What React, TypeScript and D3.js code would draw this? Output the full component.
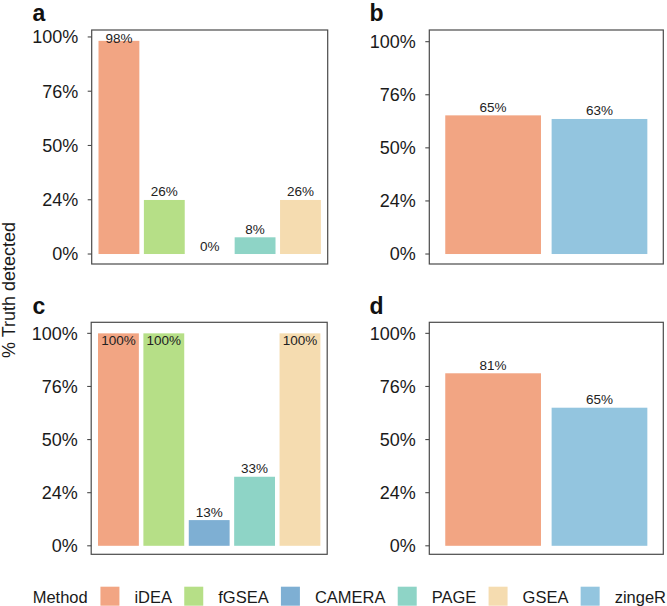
import React from "react";
import * as d3 from "d3";

// ---------- data ----------
const methodsA = ["iDEA", "fGSEA", "CAMERA", "PAGE", "GSEA"];
const valuesA = [0.982, 0.249, 0, 0.077, 0.249];
const labelsA = ["98%", "26%", "0%", "8%", "26%"];

const methodsB = ["iDEA", "zingeR"];
const valuesB = [0.653, 0.636];
const labelsB = ["65%", "63%"];

const methodsC = ["iDEA", "fGSEA", "CAMERA", "PAGE", "GSEA"];
const valuesC = [1, 1, 0.121, 0.325, 1];
const labelsC = ["100%", "100%", "13%", "33%", "100%"];

const methodsD = ["iDEA", "zingeR"];
const valuesD = [0.812, 0.65];
const labelsD = ["81%", "65%"];

const tickValues = [0, 0.25, 0.5, 0.75, 1];
const tickLabels = ["0%", "24%", "50%", "76%", "100%"];

const legendMethods = ["iDEA", "fGSEA", "CAMERA", "PAGE", "GSEA", "zingeR"];
const methodColors = ["#F2A583", "#B6DF87", "#7EAFD3", "#8ED4C6", "#F5DCB0", "#93C5DF"];

// ---------- layout ----------
const W = 667;
const H = 606;
const FONT = "'Liberation Sans', Arial, Helvetica, sans-serif";

const color = d3.scaleOrdinal<string, string>().domain(legendMethods).range(methodColors);

type PanelSpec = {
  letter: string;
  methods: string[];
  values: number[];
  labels: string[];
  x0: number; x1: number; y0: number; y1: number;
  domain: [number, number];
  letterX: number; letterY: number;
};

const panels: PanelSpec[] = [
  { letter: "a", methods: methodsA, values: valuesA, labels: labelsA, x0: 91.7, x1: 327.7, y0: 30, y1: 264, domain: [-0.046, 1.032], letterX: 32.5, letterY: 21 },
  { letter: "b", methods: methodsB, values: valuesB, labels: labelsB, x0: 429.3, x1: 663.3, y0: 30, y1: 264, domain: [-0.047, 1.055], letterX: 369.5, letterY: 21 },
  { letter: "c", methods: methodsC, values: valuesC, labels: labelsC, x0: 91.2, x1: 327.2, y0: 322.3, y1: 554.3, domain: [-0.04, 1.052], letterX: 32.5, letterY: 314 },
  { letter: "d", methods: methodsD, values: valuesD, labels: labelsD, x0: 429.3, x1: 663.3, y0: 322.3, y1: 554.3, domain: [-0.04, 1.052], letterX: 369.5, letterY: 314 },
];

function Panel({ p }: { p: PanelSpec }) {
  const x = d3.scaleBand<string>().domain(p.methods).range([p.x0, p.x1]).paddingInner(0.1).paddingOuter(0.15);
  const y = d3.scaleLinear().domain(p.domain).range([p.y1, p.y0]);
  return (
    <g>
      <text x={p.letterX} y={p.letterY} fontSize={23} fontWeight="bold" fill="#111" fontFamily={FONT}>{p.letter}</text>
      {p.methods.map((m, i) => {
        const v = p.values[i];
        const top = y(v);
        const base = y(0);
        const lx = (x(m) as number) + x.bandwidth() / 2;
        const ly = v >= 0.995 ? top + 11.7 : Math.max(top - 3.5, y(1) + 6);
        return (
          <g key={m}>
            {v > 0 && <rect x={x(m)} y={top} width={x.bandwidth()} height={base - top} fill={color(m)} />}
            <text x={lx} y={ly} textAnchor="middle" fontSize={13.5} fill="#222" fontFamily={FONT}>{p.labels[i]}</text>
          </g>
        );
      })}
      <rect x={p.x0} y={p.y0} width={p.x1 - p.x0} height={p.y1 - p.y0} fill="none" stroke="#4a4a4a" strokeWidth={1.2} />
      {tickValues.map((t, i) => (
        <g key={t}>
          <line x1={p.x0 - 4} x2={p.x0} y1={y(t)} y2={y(t)} stroke="#4a4a4a" strokeWidth={1.1} />
          <text x={p.x0 - 13.5} y={y(t)} dy="0.36em" textAnchor="end" fontSize={18} fill="#1a1a1a" fontFamily={FONT}>{tickLabels[i]}</text>
        </g>
      ))}
    </g>
  );
}

function measure(text: string, size: number): number {
  if (typeof document === "undefined") return text.length * size * 0.55;
  const c = document.createElement("canvas").getContext("2d");
  if (!c) return text.length * size * 0.55;
  c.font = `${size}px 'Liberation Sans', Arial, sans-serif`;
  return c.measureText(text).width;
}

function Legend() {
  const fs = 16.5;
  const key = 19;
  const keyTop = 586.7;
  const baseline = 603;
  const start = 32.7;
  const end = 666;
  const titleGap = 12.7;
  const keyTextGap = 15;
  // natural width of the content, remaining room split between items
  const widths = legendMethods.map((m) => measure(m, fs));
  const titleW = measure("Method", fs);
  const used = titleW + titleGap + legendMethods.length * (key + keyTextGap) + d3.sum(widths);
  const itemGap = (end - start - used) / (legendMethods.length - 1);
  const items: React.ReactNode[] = [];
  let cx = start;
  items.push(<text key="title" x={cx} y={baseline} fontSize={fs} fill="#1a1a1a" fontFamily={FONT}>Method</text>);
  cx += titleW + titleGap;
  legendMethods.forEach((m, i) => {
    items.push(<rect key={"k" + m} x={cx} y={keyTop} width={key} height={key} fill={color(m)} />);
    cx += key + keyTextGap;
    items.push(<text key={"t" + m} x={cx} y={baseline} fontSize={fs} fill="#1a1a1a" fontFamily={FONT}>{m}</text>);
    cx += widths[i] + itemGap;
  });
  return <g>{items}</g>;
}

export default function App() {
  return (
    <svg width={W} height={H} style={{ position: "absolute", left: 0, top: 0, background: "#fff" }}>
      <rect x={0} y={0} width={W} height={H} fill="#fff" />
      {panels.map((p) => <Panel key={p.letter} p={p} />)}
      <text transform={`translate(15, 290) rotate(-90)`} textAnchor="middle" fontSize={18} fill="#1a1a1a" fontFamily={FONT}>% Truth detected</text>
      <Legend />
    </svg>
  );
}
